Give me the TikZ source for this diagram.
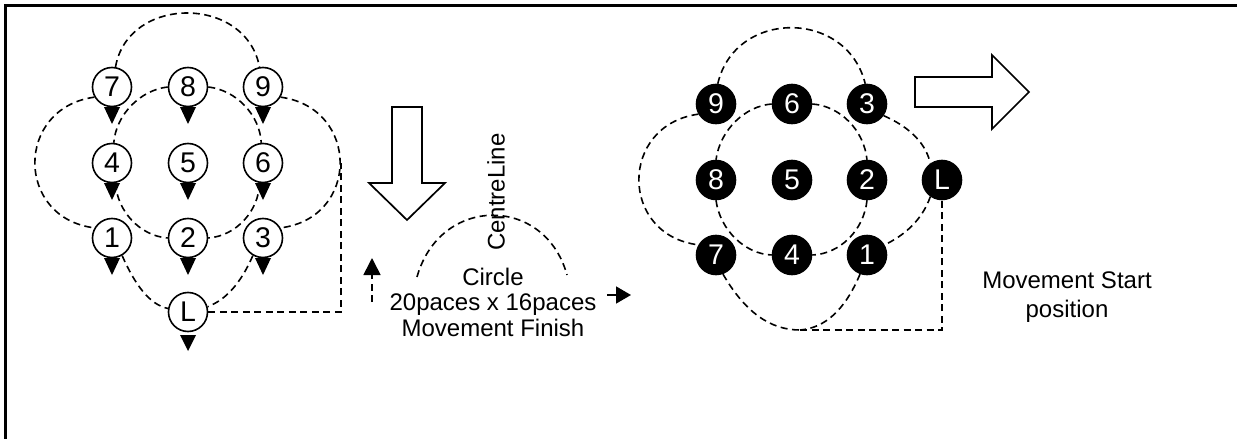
\documentclass[tikz,border=0pt]{standalone}
\usepackage{fontspec}
\setmainfont{Liberation Sans}
\usetikzlibrary{arrows.meta}
\begin{document}
\begin{tikzpicture}[x=1pt,y=-1pt,
  wdot/.style={circle,draw=black,line width=1.6pt,fill=white,minimum size=39pt,inner sep=0pt,font=\fontsize{28.5}{28.5}\selectfont},
  bdot/.style={circle,draw=black,line width=1.6pt,fill=black,text=white,minimum size=39pt,inner sep=0pt,font=\fontsize{28.5}{28.5}\selectfont},
  dpath/.style={draw=black,line width=1.6pt,dash pattern=on 7pt off 4.5pt},
  hollow/.style={draw=black,line width=1.7pt,fill=white,line join=miter},
  lbl/.style={font=\fontsize{24}{27}\selectfont,align=center,inner sep=0pt}]
\useasboundingbox (0,0) rectangle (1237,439);
% frame
\draw[line width=3.2pt] (5.5,439) -- (5.5,5.5) -- (1237,5.5);

% ---------- left formation ----------
\node[wdot] (a7) at (112,87) {7};
\node[wdot] (a8) at (188,87) {8};
\node[wdot] (a9) at (263,87) {9};
\node[wdot] (a4) at (112,163) {4};
\node[wdot] (a5) at (188,163) {5};
\node[wdot] (a6) at (263,163) {6};
\node[wdot] (a1) at (112,238) {1};
\node[wdot] (a2) at (188,238) {2};
\node[wdot] (a3) at (263,238) {3};
\node[wdot] (aL) at (188,312) {L};
\coordinate (aR) at (341,163);

\draw[dpath] (a7.80) .. controls (128,-5) and (246,-5) .. (a9.100);
\draw[dpath] (a7.210) .. controls (15,108) and (15,218) .. (a1.150);
\draw[dpath] (a9.-30) .. controls (360,108) and (360,218) .. (a3.30);
\draw[dpath] (a8.180) .. controls (140,90) and (116,115) .. (a4.85);
\draw[dpath] (a8.0) .. controls (236,90) and (260,115) .. (a6.95);
\draw[dpath] (a4.-80) .. controls (117,211) and (140,236) .. (a2.180);
\draw[dpath] (a6.-100) .. controls (259,211) and (236,236) .. (a2.0);
\draw[dpath] (a1.-60) .. controls (135,285) and (150,305) .. (aL.170);
\draw[dpath] (a3.-120) .. controls (240,285) and (225,300) .. (aL.15);
\draw[dpath] (aL.east) -| (aR);

\foreach \n in {a7,a8,a9,a4,a5,a6,a1,a2,a3}
  \fill ([shift={(-8,20)}]\n.center) -- ++(16,0) -- ++(-8,17) -- cycle;
\fill ([shift={(-8,23)}]aL.center) -- ++(16,0) -- ++(-8,16) -- cycle;

% ---------- middle ----------
\draw[hollow] (392,107) -- (422,107) -- (422,183) -- (445,183) -- (407,220) -- (369,183) -- (392,183) -- cycle;

\coordinate (upS) at (372,302);
\coordinate (upE) at (372,258);
\draw[dpath,-{Triangle[length=17pt,width=17pt]}] (upS) -- (upE);

\coordinate (pS) at (417,277);
\coordinate (pE) at (567,275);
\draw[dpath] (pS) .. controls (440,195) and (545,195) .. (pE);

\node[lbl,rotate=90] (cl) at (496,192) {CentreLine};
\node[lbl,font=\fontsize{24}{25.5}\selectfont] (mf) at (493,302) {Circle\\20paces x 16paces\\Movement Finish};

\coordinate (rS) at (607,295);
\coordinate (rE) at (631,295);
\draw[line width=1.6pt,-{Triangle[length=15pt,width=17pt]}] (rS) -- (rE);

% ---------- right formation ----------
\node[bdot] (b9) at (716,104) {9};
\node[bdot] (b6) at (792,104) {6};
\node[bdot] (b3) at (867,104) {3};
\node[bdot] (b8) at (716,180) {8};
\node[bdot] (b5) at (792,180) {5};
\node[bdot] (b2) at (867,180) {2};
\node[bdot] (bL) at (942,180) {L};
\node[bdot] (b7) at (716,255) {7};
\node[bdot] (b4) at (792,255) {4};
\node[bdot] (b1) at (867,255) {1};
\coordinate (bB) at (800,330);

\draw[dpath] (b9.85) .. controls (735,9) and (847,9) .. (b3.95);
\draw[dpath] (b9.210) .. controls (619,125) and (619,235) .. (b7.150);
\draw[dpath] (b6.180) .. controls (745,106) and (720,130) .. (b8.90);
\draw[dpath] (b6.0) .. controls (840,106) and (864,130) .. (b2.90);
\draw[dpath] (b8.-90) .. controls (720,230) and (745,254) .. (b4.180);
\draw[dpath] (b2.-90) .. controls (864,230) and (840,254) .. (b4.0);
\draw[dpath] (b3.-35) .. controls (905,125) and (925,140) .. (bL.125);
\draw[dpath] (bL.-125) .. controls (922,220) and (905,235) .. (b1.30);
\draw[dpath] (b7.-70) .. controls (745,312) and (770,330) .. (bB);
\draw[dpath] (b1.-110) .. controls (845,310) and (825,328) .. (bB);
\draw[dpath] (bB) -| (bL.south);

\draw[hollow] (915,77) -- (992,77) -- (992,55) -- (1029,92) -- (992,129) -- (992,107) -- (915,107) -- cycle;

\node[lbl,font=\fontsize{24}{29}\selectfont] (ms) at (1067,297) {Movement Start\\position};
\end{tikzpicture}
\end{document}
